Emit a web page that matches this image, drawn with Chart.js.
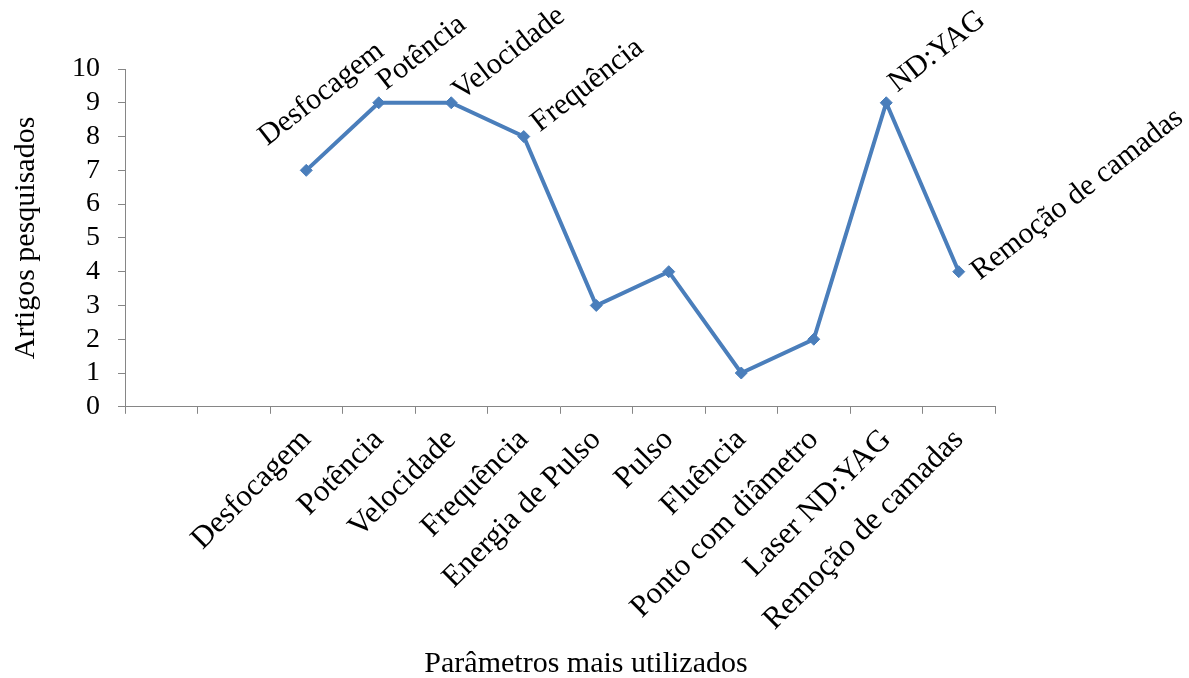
<!DOCTYPE html>
<html>
<head>
<meta charset="utf-8">
<script src="https://cdn.jsdelivr.net/npm/chart.js@4/dist/chart.umd.min.js"></script>
<style>
  html, body { margin: 0; padding: 0; background: #fff; }
  #wrap { width: 1189px; height: 678px; position: relative; }
</style>
</head>
<body>
<div id="wrap"><canvas id="chartParams"></canvas></div>
<script>
// Parameters most used in the surveyed articles
const categories = ['', '', 'Desfocagem', 'Potência', 'Velocidade', 'Frequência', 'Energia de Pulso', 'Pulso', 'Fluência', 'Ponto com diâmetro', 'Laser ND:YAG', 'Remoção de camadas']
const articleCounts = [null, null, 7, 9, 9, 8, 3, 4, 1, 2, 9, 4]
const pointLabels = ['', '', 'Desfocagem', 'Potência', 'Velocidade', 'Frequência', '', '', '', '', 'ND:YAG', 'Remoção de camadas']
const xTitle = 'Parâmetros mais utilizados'
const yTitle = 'Artigos pesquisados'

const serif = 'Liberation Serif, Times New Roman, serif'
const axisGray = '#868686'
const lineBlue = '#4a7ebb'

// shift of each point label from its marker, in px
const labelShift = {
  2: [-39, -24],
  3: [7, -12],
  4: [10, -2],
  5: [16, -4],
  10: [11, -10],
  11: [21, 9]
}

const pointLabelPlugin = {
  id: 'pointLabels',
  afterDatasetsDraw(chart) {
    const ctx = chart.ctx
    const meta = chart.getDatasetMeta(0)
    ctx.save()
    ctx.font = `30px ${serif}`
    ctx.fillStyle = '#000'
    ctx.textAlign = 'left'
    ctx.textBaseline = 'alphabetic'
    meta.data.forEach((pt, i) => {
      const text = pointLabels[i]
      if (!text) return
      const [dx, dy] = labelShift[i] || [0, 0]
      ctx.save()
      ctx.translate(pt.x + dx, pt.y + dy)
      ctx.rotate(-38 * Math.PI / 180)
      ctx.fillText(text, 0, 0)
      ctx.restore()
    })
    ctx.restore()
  },
  // x title sits a little right of the plot centre
  afterDraw(chart) {
    const ctx = chart.ctx
    const area = chart.chartArea
    ctx.save()
    ctx.font = `30px ${serif}`
    ctx.fillStyle = '#000'
    ctx.textAlign = 'center'
    ctx.textBaseline = 'alphabetic'
    ctx.fillText(xTitle, (area.left + area.right) / 2 + 26, chart.height - 6)
    ctx.restore()
  }
}

new Chart(document.getElementById('chartParams'), {
  type: 'line',
  data: {
    labels: categories,
    datasets: [{
      data: articleCounts,
      borderColor: lineBlue,
      backgroundColor: lineBlue,
      borderWidth: 4,
      pointStyle: 'rectRot',
      pointRadius: 6,
      pointBorderWidth: 1,
      tension: 0,
      spanGaps: false
    }]
  },
  options: {
    responsive: true,
    maintainAspectRatio: false,
    animation: false,
    layout: { padding: { top: 69, right: 194, left: 8, bottom: 32 } },
    plugins: {
      legend: { display: false },
      tooltip: { enabled: false }
    },
    scales: {
      x: {
        offset: true,
        grid: { offset: true, drawOnChartArea: false, drawTicks: true, tickLength: 7, color: axisGray },
        border: { color: axisGray, width: 1 },
        ticks: {
          autoSkip: false,
          minRotation: 45,
          maxRotation: 45,
          padding: 8,
          color: '#000',
          font: { family: serif, size: 31 }
        }
      },
      y: {
        min: 0,
        max: 10,
        grid: { drawOnChartArea: false, drawTicks: true, tickLength: 7, color: axisGray },
        border: { color: axisGray, width: 1 },
        ticks: {
          stepSize: 1,
          autoSkip: false,
          padding: 18,
          color: '#000',
          font: { family: serif, size: 28 }
        },
        title: {
          display: true,
          text: yTitle,
          color: '#000',
          font: { family: serif, size: 30 },
          padding: { top: 0, bottom: 10 }
        }
      }
    }
  },
  plugins: [pointLabelPlugin]
})
</script>
</body>
</html>
